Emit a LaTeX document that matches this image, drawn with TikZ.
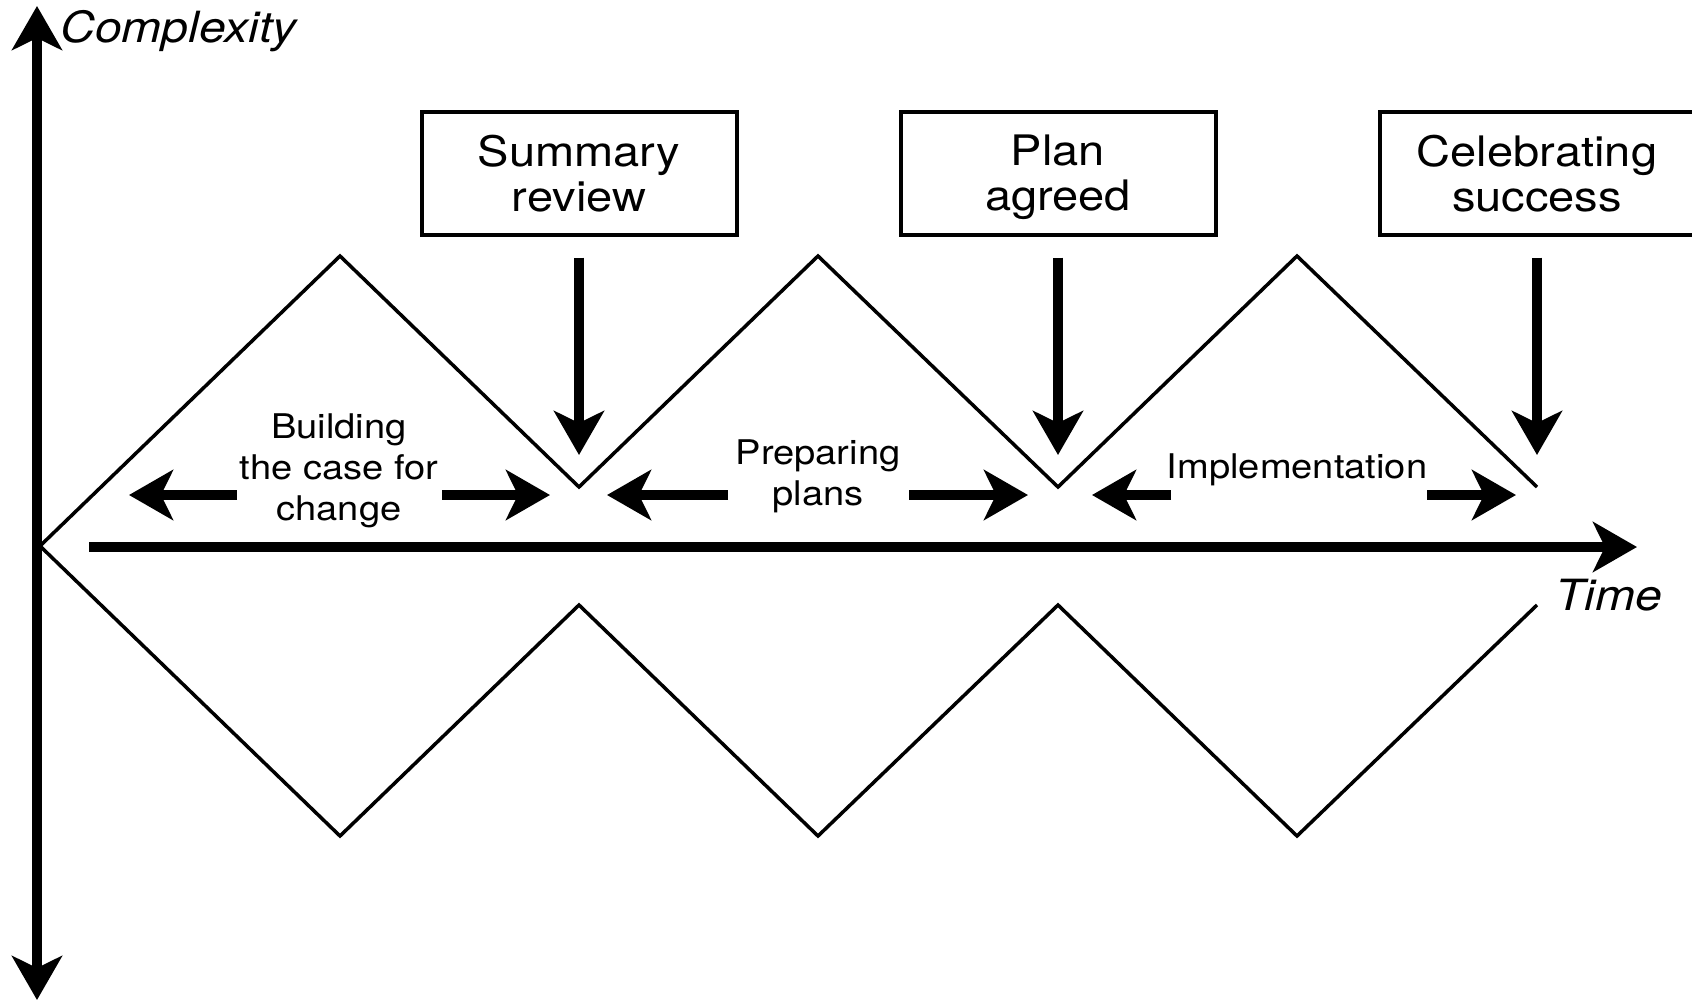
\documentclass[tikz,border=0pt]{standalone}
\usepackage{fontspec}
\setmainfont{TeX Gyre Heros}[FakeStretch=1.12]
\usetikzlibrary{arrows.meta}
\begin{document}
\begin{tikzpicture}[x=0.5pt,y=-0.5pt,
  >={Stealth[length=22pt,width=25pt,inset=6pt]},
  bigarrow/.style={line width=5pt},
  zig/.style={line width=1.75pt, line join=miter},
  stage/.style={draw, line width=2pt, minimum width=157.5pt, minimum height=61.5pt,
    align=center, inner sep=0pt, text depth=0pt, font=\fontsize{21pt}{22.5pt}\selectfont},
  phase/.style={align=center, inner sep=0pt, font=\fontsize{17pt}{20.5pt}\selectfont},
  axislabel/.style={inner sep=0pt, font=\fontsize{21.5pt}{24pt}\selectfont\itshape}]
\useasboundingbox (0,0) rectangle (1692,1001);
\clip (0,0) rectangle (1692,1001);

% zigzag vertices
\coordinate (o)  at (40,546);
\coordinate (u1) at (340,256);  \coordinate (u2) at (579,487);
\coordinate (u3) at (818,256);  \coordinate (u4) at (1058,487);
\coordinate (u5) at (1297,256); \coordinate (u6) at (1537,487);
\coordinate (l1) at (340,836);  \coordinate (l2) at (579,605);
\coordinate (l3) at (818,836);  \coordinate (l4) at (1058,605);
\coordinate (l5) at (1297,836); \coordinate (l6) at (1537,605);

% axes
\coordinate (ytop) at (37,6);
\coordinate (ybot) at (37,1000);
\coordinate (t0) at (89,547);
\coordinate (t1) at (1637,547);
\draw[bigarrow,<->] (ytop) -- (ybot);
\draw[bigarrow,->] (t0) -- (t1);
\node[axislabel, anchor=base west] (cx) at (60,42) {Complexity};
\node[axislabel, anchor=base west] (tm) at (1555,610) {Time};

% the two zigzag lines
\draw[zig] (u6) -- (u5) -- (u4) -- (u3) -- (u2) -- (u1) -- (o)
  -- (l1) -- (l2) -- (l3) -- (l4) -- (l5) -- (l6);

% milestone boxes
\node[stage] (sr) at (579,173) {Summary\\review};
\node[stage] (pa) at (1058,173) {Plan\\agreed};
\node[stage] (cs) at (1537,173) {Celebrating\\success};
\draw[bigarrow,->,shorten <=10.5pt,shorten >=16pt] (sr.south) -- (u2);
\draw[bigarrow,->,shorten <=10.5pt,shorten >=16pt] (pa.south) -- (u4);
\draw[bigarrow,->,shorten <=10.5pt,shorten >=16pt] (cs.south) -- (u6);

% phase labels
\node[phase] (p1) at (339,471) {Building\\the case for\\change};
\node[phase] (p2) at (818,476) {Preparing\\plans};
\node[phase] (p3) at (1297,470) {Implementation};

% phase span arrows
\coordinate (a1) at (237,495);  \coordinate (b1) at (129,495);
\coordinate (a2) at (442,495);  \coordinate (b2) at (550,495);
\coordinate (a3) at (728,495);  \coordinate (b3) at (607,495);
\coordinate (a4) at (909,495);  \coordinate (b4) at (1028,495);
\coordinate (a5) at (1171,495); \coordinate (b5) at (1092,495);
\coordinate (a6) at (1427,495); \coordinate (b6) at (1516,495);
\foreach \i in {1,...,6} {\draw[bigarrow,->] (a\i) -- (b\i);}
\end{tikzpicture}
\end{document}
